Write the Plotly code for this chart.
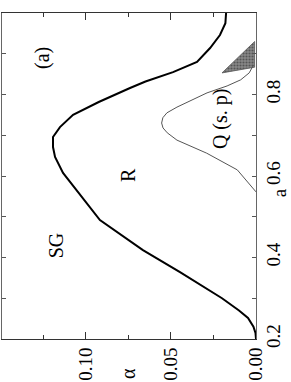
import plotly.graph_objects as go

# SG boundary (thick black)
sg_a = [0.20, 0.215, 0.23, 0.2515, 0.27, 0.30, 0.364, 0.418, 0.492, 0.546, 0.6074, 0.6466, 0.671, 0.6957, 0.720, 0.750, 0.7816, 0.816, 0.832, 0.855, 0.880, 0.914, 0.946, 0.975, 1.0]
sg_alpha = [0.0, 0.0003, 0.0015, 0.0047, 0.010, 0.020, 0.0447, 0.0665, 0.0918, 0.1018, 0.1135, 0.1182, 0.1194, 0.1194, 0.1153, 0.1076, 0.0925, 0.0741, 0.065, 0.0488, 0.0347, 0.027, 0.0212, 0.018, 0.0176]

# Q (s.p) boundary (thin grey)
q_a = [0.561, 0.615, 0.656, 0.688, 0.706, 0.718, 0.730, 0.743, 0.755, 0.769, 0.804, 0.821, 0.836, 0.853, 0.872]
q_alpha = [0.0, 0.011, 0.029, 0.0465, 0.0522, 0.0547, 0.0555, 0.0548, 0.0524, 0.0465, 0.0288, 0.017, 0.009, 0.004, 0.0015]

# shaded region
shade_a = [0.853, 0.929, 0.93, 0.867, 0.860, 0.853]
shade_alpha = [0.020, 0.0015, 0.0008, 0.0008, 0.0094, 0.020]

x_ticks = [0.0, 0.05, 0.10]
x_labels = ["0.00", "0.05", "0.10"]
y_ticks = [0.2, 0.4, 0.6, 0.8, 1.0]
y_labels = ["0.2", "0.4", "0.6", "0.8", "1.0"]

FONT = "Liberation Serif, Times New Roman, serif"

fig = go.Figure()
fig.add_trace(go.Scatter(x=shade_alpha, y=shade_a, mode="lines", fill="toself",
                         line=dict(color="#555", width=0.8),
                         fillcolor="#777",
                         fillpattern=dict(shape=".", fgcolor="#222", bgcolor="#888", size=3, solidity=0.4),
                         hoverinfo="skip"))
fig.add_trace(go.Scatter(x=q_alpha, y=q_a, mode="lines", line=dict(color="#555", width=1)))
fig.add_trace(go.Scatter(x=sg_alpha, y=sg_a, mode="lines", line=dict(color="black", width=2)))

fig.update_layout(
    width=291, height=382,
    margin=dict(l=2, r=35, t=13, b=43),
    paper_bgcolor="white", plot_bgcolor="white",
    showlegend=False,
    font=dict(family=FONT, size=19, color="black"),
    xaxis=dict(range=[0.1494, 0.0], tickvals=x_ticks, ticktext=x_labels, tickangle=-90,
               showgrid=False, zeroline=False, showline=True, linecolor="#333", linewidth=1,
               mirror="ticks", ticks="inside", ticklen=7, tickcolor="#333",
               minor=dict(tickvals=[0.025, 0.075, 0.125], ticks="inside", ticklen=4, tickcolor="#333")),
    yaxis=dict(range=[0.2, 1.0], tickvals=y_ticks, ticktext=y_labels, tickangle=-90, side="right",
               showgrid=False, zeroline=False, showline=True, linecolor="#666", linewidth=1,
               mirror="ticks", ticks="inside", ticklen=4, tickcolor="#555",
               minor=dict(tickvals=[0.3, 0.5, 0.7, 0.9], ticks="inside", ticklen=4, tickcolor="#555")),
)

ann = dict(showarrow=False, textangle=-90, xanchor="center", yanchor="middle",
           font=dict(family=FONT, size=20, color="black"))
fig.add_annotation(x=0.1253, y=0.8896, text="(a)", **ann)
fig.add_annotation(x=0.118, y=0.431, text="SG", **ann)
fig.add_annotation(x=0.0753, y=0.6024, text="R", **ann)
fig.add_annotation(x=0.0212, y=0.742, text="Q (s. p)", **ann)
fig.add_annotation(x=0.0753, xref="x", y=-0.104, yref="paper", text="α", **ann)
fig.add_annotation(x=1.09, xref="paper", y=0.56, yref="y", text="a", borderpad=0,
                   showarrow=False, textangle=-90, xanchor="center", yanchor="middle",
                   font=dict(family=FONT, size=19, color="black"))

fig.write_html("out.html", config={"displayModeBar": False},
               post_script="document.body.style.margin='0';document.body.style.overflow='hidden';")
